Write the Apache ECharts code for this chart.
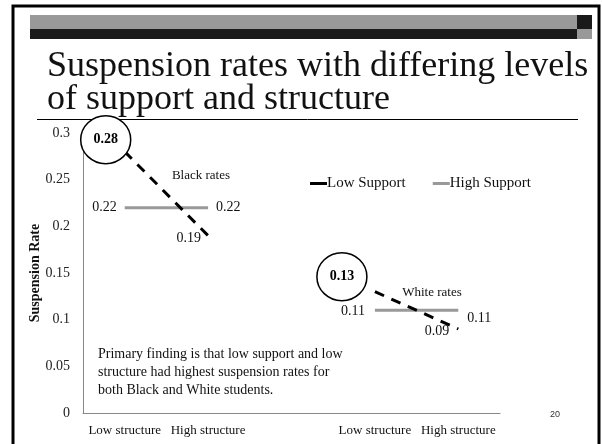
<!DOCTYPE html>
<html>
<head>
<meta charset="utf-8">
<script src="https://cdn.jsdelivr.net/npm/echarts@6/dist/echarts.min.js"></script>
<style>
html,body{margin:0;padding:0;background:#fff;}
#chart{width:602px;height:444px;}
</style>
</head>
<body>
<div id="chart"></div>
<script>
// ---- data ----
const categories = ['Low structure', 'High structure', '', 'Low structure', 'High structure'];
const lowSupport = [0.28, 0.19, null, 0.13, 0.09];
const highSupport = [0.22, 0.22, null, 0.11, 0.11];
const yTicks = [0, 0.05, 0.1, 0.15, 0.2, 0.25, 0.3];
const titleLines = ['Suspension rates with differing levels', 'of support and structure'];
const noteLines = ['Primary finding is that low support and low', 'structure had highest suspension rates for', 'both Black and White students.'];
const groupNotes = ['Black rates', 'White rates'];
const circledIdx = [0, 3];

const SERIF = '"Liberation Serif", "Times New Roman", serif';

// label placement styles (by index)
const lowLabelStyle = [
  {show: false},
  {show: true, position: 'left', distance: 6, offset: [0, 3]},
  {show: false},
  {show: false},
  {show: true, position: 'left', distance: 8, offset: [0, 2]}
];
const highLabelStyle = [
  {show: true, position: 'left', distance: 7},
  {show: true, position: 'right', distance: 7},
  {show: false},
  {show: true, position: 'left', distance: 9, offset: [0, 1]},
  {show: true, position: 'right', distance: 8, offset: [0, 8]}
];
const circleOffsets = [[-19, -12], [-33, -15]];

function buildData(vals, styles) {
  return vals.map((v, i) => v === null ? null : ({value: v, label: styles[i]}));
}

const chart = echarts.init(document.getElementById('chart'), null, {renderer: 'canvas'});

const hiddenSym = {color: 'rgba(0,0,0,0)', borderWidth: 0};

const option = {
  backgroundColor: '#fff',
  animation: false,
  grid: {left: 83, right: 102, top: 133, bottom: 31, containLabel: false},
  legend: {
    left: 305, top: 171,
    icon: 'rect', itemWidth: 17, itemHeight: 3, itemGap: 27,
    textStyle: {fontFamily: SERIF, fontSize: 15, color: '#111', padding: [0, 0, 0, -5]},
    data: [
      {name: 'Low Support', itemStyle: {color: '#000'}},
      {name: 'High Support', itemStyle: {color: '#999'}}
    ]
  },
  xAxis: {
    type: 'category',
    data: categories,
    boundaryGap: true,
    axisTick: {show: false},
    axisLine: {show: true, lineStyle: {color: '#888', width: 1}},
    axisLabel: {fontFamily: SERIF, fontSize: 13, color: '#111', margin: 11, interval: 0}
  },
  yAxis: {
    type: 'value',
    min: yTicks[0], max: yTicks[yTicks.length - 1], interval: 0.05,
    name: 'Suspension Rate',
    nameLocation: 'middle', nameGap: 41, nameRotate: 90, nameMoveOverlap: false,
    nameTextStyle: {fontFamily: SERIF, fontSize: 14, fontWeight: 'bold', color: '#111'},
    splitLine: {show: false},
    axisTick: {show: false},
    axisLine: {show: true, lineStyle: {color: '#888', width: 1}},
    axisLabel: {fontFamily: SERIF, fontSize: 14, color: '#222', margin: 13,
      formatter: v => String(+v.toFixed(2))}
  },
  series: [
    {
      name: 'Low Support', type: 'line',
      data: buildData(lowSupport, lowLabelStyle),
      connectNulls: false, showSymbol: true, symbol: 'circle', symbolSize: 2,
      itemStyle: hiddenSym,
      color: '#000',
      lineStyle: {color: '#000', width: 3, type: [10, 8]},
      label: {fontFamily: SERIF, fontSize: 14, color: '#111', formatter: p => String(p.value)},
      emphasis: {disabled: true},
      z: 3,
      markPoint: {
        symbol: 'circle',
        itemStyle: {color: '#fff', borderColor: '#000', borderWidth: 1.5},
        label: {show: true, position: 'inside', fontFamily: SERIF, fontSize: 14, fontWeight: 'bold', color: '#000',
          formatter: p => String(p.value)},
        data: circledIdx.map((ci, k) => ({
          coord: [ci, lowSupport[ci]], value: lowSupport[ci],
          symbolSize: [50, 48], symbolOffset: circleOffsets[k]
        }))
      }
    },
    {
      name: 'High Support', type: 'line',
      data: buildData(highSupport, highLabelStyle),
      connectNulls: false, showSymbol: true, symbol: 'circle', symbolSize: 2,
      itemStyle: hiddenSym,
      color: '#999',
      lineStyle: {color: '#999', width: 3},
      label: {fontFamily: SERIF, fontSize: 14, color: '#111', formatter: p => String(p.value)},
      emphasis: {disabled: true},
      z: 2
    }
  ],
  graphic: [
    {type: 'rect', shape: {x: 13, y: 6, width: 586, height: 460}, style: {fill: 'none', stroke: '#000', lineWidth: 3}, silent: true},
    {type: 'rect', shape: {x: 30, y: 15, width: 547, height: 14}, style: {fill: '#999'}},
    {type: 'rect', shape: {x: 30, y: 29, width: 547, height: 10}, style: {fill: '#1a1a1a'}},
    {type: 'rect', shape: {x: 577, y: 15, width: 15, height: 14}, style: {fill: '#1a1a1a'}},
    {type: 'rect', shape: {x: 577, y: 29, width: 15, height: 10}, style: {fill: '#999'}},
    {type: 'text', x: 47, y: 49, style: {text: titleLines[0], font: '36px ' + SERIF, fill: '#111', textVerticalAlign: 'top'}},
    {type: 'text', x: 47, y: 82, style: {text: titleLines[1], font: '36px ' + SERIF, fill: '#111', textVerticalAlign: 'top'}},
    {type: 'line', shape: {x1: 37, y1: 119.5, x2: 578, y2: 119.5}, style: {stroke: '#000', lineWidth: 1}},
    {type: 'text', x: 201, y: 176, style: {text: groupNotes[0], font: '13px ' + SERIF, fill: '#111', textAlign: 'center', textVerticalAlign: 'middle'}},
    {type: 'text', x: 432, y: 293, style: {text: groupNotes[1], font: '13px ' + SERIF, fill: '#111', textAlign: 'center', textVerticalAlign: 'middle'}},
    {type: 'text', x: 98, y: 345, style: {text: noteLines.join('\n'), font: '14px ' + SERIF, lineHeight: 18, fill: '#111', textVerticalAlign: 'top'}},
    {type: 'text', x: 555, y: 415, style: {text: '20', font: '9px "Liberation Sans", Arial, sans-serif', fill: '#333', textAlign: 'center', textVerticalAlign: 'middle'}}
  ]
};
chart.setOption(option);
</script>
</body>
</html>
